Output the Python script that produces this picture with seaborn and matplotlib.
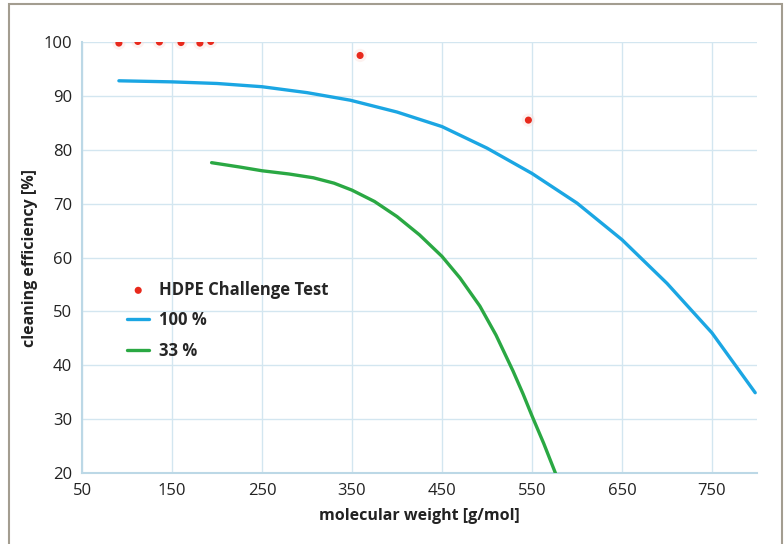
# Cleaning efficiency vs molecular weight
import matplotlib.pyplot as plt
import seaborn as sns
import pandas as pnd
from matplotlib.patches import Rectangle

# HDPE challenge test points
hdpe_mw = [91, 112, 136, 160, 181, 193, 359, 546]
hdpe_eff = [99.8, 100.1, 100.0, 99.9, 99.8, 100.1, 97.5, 85.5]

# 100 % curve
mw_100 = [91, 150, 200, 250, 300, 348, 400, 450, 500, 550, 600, 650, 700, 750, 798]
eff_100 = [92.8, 92.6, 92.3, 91.7, 90.6, 89.2, 87.0, 84.3, 80.3, 75.6, 70.1, 63.3, 55.2, 46.0, 34.9]

# 33 % curve
mw_33 = [194, 225, 250, 280, 307, 330, 350, 375, 400, 425, 450, 470, 492, 510, 529, 540, 550, 563, 576]
eff_33 = [77.6, 76.8, 76.1, 75.5, 74.8, 73.8, 72.5, 70.4, 67.6, 64.2, 60.2, 56.2, 51.0, 45.6, 38.9, 34.7, 30.6, 25.5, 20.0]

sns.set_style("white")
plt.rcParams['font.family'] = ['Open Sans', 'DejaVu Sans']

fig = plt.figure(figsize=(7.84, 5.44), dpi=100)
ax = fig.add_axes([82 / 784, 1 - 473 / 544, (757 - 82) / 784, (473 - 42) / 544])

grid_col = '#d3e6f0'
sns.lineplot(x=mw_100, y=eff_100, color='#1ba6e3', linewidth=2.4, label='100 %', ax=ax,
             zorder=3, solid_joinstyle='round')
sns.lineplot(x=mw_33, y=eff_33, color='#2aa843', linewidth=2.4, label='33 %', ax=ax,
             zorder=3, solid_joinstyle='round')
# faint halo round each red point
ax.scatter(hdpe_mw, hdpe_eff, s=90, color='#fadad5', alpha=0.35, edgecolor='none', zorder=3)
sns.scatterplot(x=hdpe_mw, y=hdpe_eff, color='#e8291c', s=26, marker='o', edgecolor='none',
                label='HDPE Challenge Test', ax=ax, zorder=4)

ax.set_xlim(50, 800)
ax.set_ylim(20, 100)
ax.set_xticks([50, 150, 250, 350, 450, 550, 650, 750])
ax.set_yticks(range(20, 101, 10))
ax.grid(True, color=grid_col, linewidth=1)
ax.set_axisbelow(True)
for s in ['top', 'right']:
    ax.spines[s].set_visible(False)
for s in ['left', 'bottom']:
    ax.spines[s].set_color('#bcd8e6')
    ax.spines[s].set_linewidth(1.5)
ax.tick_params(axis='both', length=0, labelsize=12, colors='#222222', pad=7)

ax.set_xlabel('molecular weight [g/mol]', fontsize=11.5, fontweight='bold', color='#222222', labelpad=7)
ax.set_ylabel('cleaning efficiency [%]', fontsize=11.5, fontweight='bold', color='#222222', labelpad=4)

handles, labels = ax.get_legend_handles_labels()
order = [2, 0, 1]
leg = ax.legend([handles[i] for i in order], [labels[i] for i in order],
                loc='upper left', bbox_to_anchor=(0.045, 0.481), frameon=False,
                prop={'weight': 'bold', 'size': 12}, handlelength=1.3, handletextpad=0.6,
                labelspacing=0.75)

# outer frame
fig.patches.append(Rectangle((9 / 784, -0.01), (782 - 9) / 784, 1 - 4 / 544 + 0.01,
                             transform=fig.transFigure, fill=False,
                             edgecolor='#a39d90', linewidth=1.5))

fig.savefig('out.png', dpi=100)
